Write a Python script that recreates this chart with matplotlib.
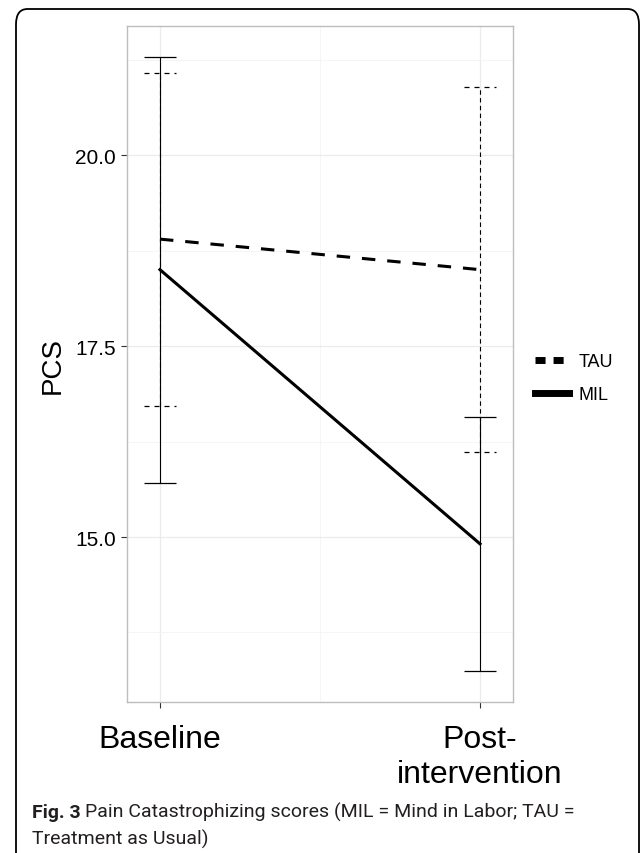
import matplotlib
matplotlib.use('Agg')
import matplotlib.pyplot as plt
from matplotlib.lines import Line2D
from matplotlib.patches import FancyBboxPatch
from matplotlib.ticker import MultipleLocator

# values
times = ['Baseline', 'Post-\nintervention']
tau_mean = [18.9, 18.5]
tau_err = [2.18, 2.39]
mil_mean = [18.5, 14.91]
mil_err = [2.79, 1.66]
yticks = [15.0, 17.5, 20.0]
groups = ['TAU', 'MIL']

plt.rcParams['font.family'] = ['Liberation Sans', 'DejaVu Sans']

fig = plt.figure(figsize=(6.4, 8.54), dpi=100)
W, H = 640, 854

# outer rounded frame (bottom edge runs off the page)
frame = FancyBboxPatch((16 / W, -30 / H), 623 / W, 874 / H,
                       boxstyle='round,pad=0,rounding_size=0.018',
                       transform=fig.transFigure, fill=False,
                       edgecolor='black', lw=1.3, clip_on=False)
fig.patches.append(frame)

ax = fig.add_axes([127 / W, 1 - 703 / H, 386 / W, 676 / H])
x = [1, 2]
cap = 0.049

# TAU
ax.vlines(x, [m - e for m, e in zip(tau_mean, tau_err)],
          [m + e for m, e in zip(tau_mean, tau_err)],
          colors='black', lw=0.8, linestyles=(0, (4, 3)), zorder=3)
for xi, m, e in zip(x, tau_mean, tau_err):
    ax.hlines([m - e, m + e], xi - cap, xi + cap, colors='black', lw=0.9,
              linestyles=(0, (4, 4)), zorder=3)
ax.plot(x, tau_mean, color='black', lw=2.2, dashes=(4.4, 3.9), zorder=4)

# MIL
ax.vlines(x, [m - e for m, e in zip(mil_mean, mil_err)],
          [m + e for m, e in zip(mil_mean, mil_err)],
          colors='black', lw=0.8, zorder=3)
for xi, m, e in zip(x, mil_mean, mil_err):
    ax.hlines([m - e, m + e], xi - cap, xi + cap, colors='black', lw=0.9,
              zorder=3)
ax.plot(x, mil_mean, color='black', lw=2.2, zorder=4)

ax.set_xlim(0.897, 2.103)
ax.set_ylim(12.84, 21.69)
ax.set_xticks(x)
ax.set_xticklabels(times, fontsize=23)
ax.set_yticks(yticks)
ax.set_yticklabels(['%.1f' % t for t in yticks], fontsize=15)
ax.xaxis.set_minor_locator(MultipleLocator(0.5))
ax.yaxis.set_minor_locator(MultipleLocator(1.25))
ax.tick_params(which='major', length=4, width=0.8, color='#333333')
ax.tick_params(axis='x', pad=12)
ax.tick_params(axis='y', pad=4)
ax.tick_params(which='minor', length=0)
ax.grid(which='major', color='#ebebeb', lw=0.9)
ax.grid(which='minor', color='#f5f5f5', lw=0.7)
ax.set_axisbelow(True)
for s in ax.spines.values():
    s.set_color('#bdbdbd')
    s.set_linewidth(1.0)

ax.set_ylabel('PCS', fontsize=20, labelpad=7)

handles = [Line2D([], [], color='black', lw=5, dashes=(1.45, 1.15)),
           Line2D([], [], color='black', lw=5)]
fig.legend(handles, groups, loc='center left',
           bbox_to_anchor=(535 / W, 1 - 379 / H), frameon=False,
           fontsize=13, handlelength=1.9, handletextpad=0.5,
           labelspacing=0.9, borderpad=0, borderaxespad=0)

# caption
cap_font = ['Roboto', 'DejaVu Sans']
t1 = fig.text(32 / W, 1 - 818 / H, 'Fig. 3', fontsize=14, weight='bold',
              family=cap_font, color='#231f20', va='baseline')
r = fig.canvas.get_renderer()
bb = t1.get_window_extent(r)
fig.text(bb.x1 / W + 4 / W, 1 - 818 / H,
         'Pain Catastrophizing scores (MIL = Mind in Labor; TAU =',
         fontsize=14, family=cap_font, color='#231f20', va='baseline')
fig.text(32 / W, 1 - 845 / H, 'Treatment as Usual)', fontsize=14,
         family=cap_font, color='#231f20', va='baseline')

fig.savefig('out.png', dpi=100)
